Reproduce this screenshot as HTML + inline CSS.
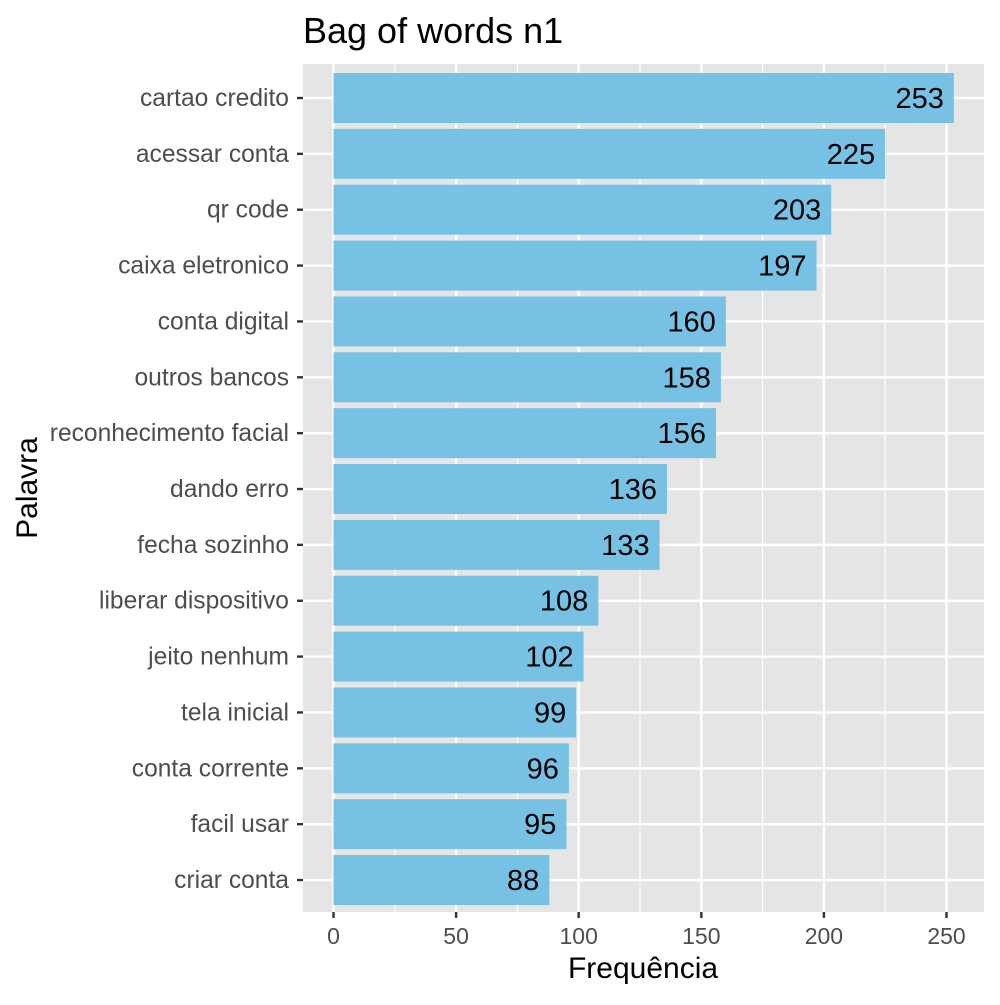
<!DOCTYPE html><html><head><style>body{margin:0;background:#fff}svg{font-family:"Liberation Sans",sans-serif}</style></head><body>
<svg id="c" width="1000" height="1000"></svg>
<script>
const categories=["cartao credito","acessar conta","qr code","caixa eletronico","conta digital","outros bancos","reconhecimento facial","dando erro","fecha sozinho","liberar dispositivo","jeito nenhum","tela inicial","conta corrente","facil usar","criar conta"];
const values=[253,225,203,197,160,158,156,136,133,108,102,99,96,95,88];
const xTicks=[0,50,100,150,200,250];
const L=303,R=984,T=64,B=912;
const x=v=>333.5+v*2.452;
const y=i=>98+i*55.86;
const s=document.getElementById('c');const NS='http://www.w3.org/2000/svg';
function el(t,a,p){const e=document.createElementNS(NS,t);for(const k in a)e.setAttribute(k,a[k]);(p||s).appendChild(e);return e;}
const bg=el('rect',{x:L,y:T,width:R-L,height:B-T,fill:'#e5e5e5'});


for(let i=0;i<xTicks.length-1;i++){const m=(xTicks[i]+xTicks[i+1])/2;const g=el('line',{x1:x(m),x2:x(m),y1:T,y2:B,stroke:'#fff','stroke-width':1.2});

}
xTicks.forEach(v=>{const g=el('line',{x1:x(v),x2:x(v),y1:T,y2:B,stroke:'#fff','stroke-width':2.4});


const t=el('line',{x1:x(v),x2:x(v),y1:B,y2:B+6,stroke:'#333','stroke-width':2.4});


const l=el('text',{x:x(v),y:B+32,'text-anchor':'middle','font-size':23,fill:'#4d4d4d'});l.textContent=v;

});
categories.forEach((c,i)=>{const g=el('line',{x1:L,x2:R,y1:y(i),y2:y(i),stroke:'#fff','stroke-width':2.4});


const b=el('rect',{x:x(0),y:y(i)-25,width:x(values[i])-x(0),height:50,fill:'#77c2e4'});


const v=el('text',{x:x(values[i])-10,y:y(i)+10,'text-anchor':'end','font-size':29,fill:'#000'});v.textContent=values[i];


const t=el('line',{x1:L-6,x2:L,y1:y(i),y2:y(i),stroke:'#333','stroke-width':2.4});


const l=el('text',{x:L-14,y:y(i)+8,'text-anchor':'end','font-size':24.6,fill:'#4d4d4d'});l.textContent=c;

});
const tt=el('text',{x:303,y:43,'font-size':36,fill:'#000'});tt.textContent='Bag of words n1';


const xt=el('text',{x:643,y:978,'text-anchor':'middle','font-size':30,fill:'#000'});xt.textContent='Frequência';


const yt=el('text',{x:37,y:488,'text-anchor':'middle','font-size':30,fill:'#000',transform:'rotate(-90 37 488)'});yt.textContent='Palavra';


</script></body></html>
